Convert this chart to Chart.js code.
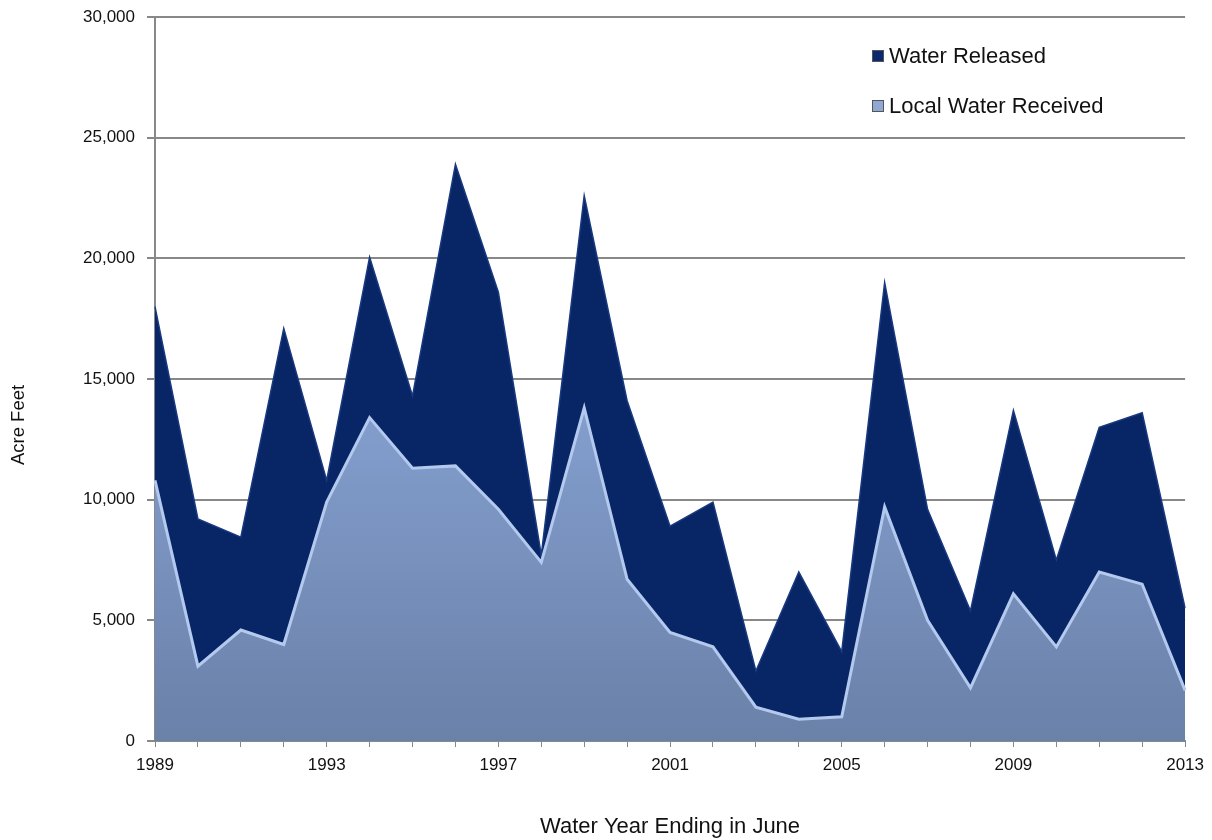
<!DOCTYPE html>
<html lang="en">
<head>
    <meta charset="UTF-8">
    <title>Water Released vs Local Water Received</title>
    <script src="https://cdn.jsdelivr.net/npm/chart.js@4.4.0/dist/chart.umd.min.js"></script>
    <style>
        body {
            margin: 0;
            background: #fff;
            font-family: "Liberation Sans", Arial, sans-serif;
        }
        .wrap {
            position: relative;
            width: 1212px;
            height: 840px;
        }
        .legend {
            position: absolute;
            left: 872px;
            top: 31px;
            font-size: 22px;
            color: #111;
        }
        .legend div {
            height: 50px;
            display: flex;
            align-items: center;
        }
        .legend span {
            display: inline-block;
            width: 10px;
            height: 10px;
            margin-right: 5px;
            border: 1px solid #555;
        }
    </style>
</head>
<body>
    <div class="wrap">
        <canvas id="waterChart"></canvas>
        <div class="legend">
            <div><span style="background:#0b2a6e"></span>Water Released</div>
            <div><span style="background:#8fa8d4"></span>Local Water Received</div>
        </div>
    </div>
    <script>
        var years = [];
        for (var y = 1989; y <= 2013; y++) years.push(String(y));

        var waterReleased = [18000, 9200, 8450, 17100, 10800, 20050, 14300, 23900, 18600, 7700,
            22600, 14100, 8900, 9900, 2900, 7000, 3700, 19000, 9600, 5400,
            13700, 7500, 13000, 13600, 5500];
        var localReceived = [10800, 3100, 4600, 4000, 9900, 13400, 11300, 11400, 9600, 7400,
            13800, 6700, 4500, 3900, 1400, 900, 1000, 9700, 5000, 2200,
            6100, 3900, 7000, 6500, 2100];

        var yMax = 30000;
        var yStep = 5000;

        function localGradient(context) {
            var area = context.chart.chartArea;
            if (!area) return '#8aa4d2';
            var g = context.chart.ctx.createLinearGradient(0, area.top, 0, area.bottom);
            g.addColorStop(0, '#a3c0f0');
            g.addColorStop(0.4, '#8ba7da');
            g.addColorStop(1, '#6a81a8');
            return g;
        }

        // y title sits lower than the plot centre in the original, so draw it by hand
        var yTitle = {
            id: 'yTitle',
            afterDraw: function (chart) {
                var c = chart.ctx;
                c.save();
                c.translate(19, 425);
                c.rotate(-Math.PI / 2);
                c.font = '18.5px "Liberation Sans"';
                c.fillStyle = '#111';
                c.textAlign = 'center';
                c.textBaseline = 'middle';
                c.fillText('Acre Feet', 0, 0);
                c.restore();
            }
        };

        var ctx = document.getElementById('waterChart').getContext('2d');
        var chart = new Chart(ctx, {
            type: 'line',
            data: {
                labels: years,
                datasets: [
                    {
                        label: 'Local Water Received',
                        data: localReceived,
                        fill: 'origin',
                        backgroundColor: localGradient,
                        borderColor: '#b4c9ee',
                        borderWidth: 3,
                        pointRadius: 0,
                        tension: 0
                    },
                    {
                        label: 'Water Released',
                        data: waterReleased,
                        fill: 'origin',
                        backgroundColor: '#082566',
                        borderColor: '#1a3a80',
                        borderWidth: 1.5,
                        pointRadius: 0,
                        tension: 0
                    }
                ]
            },
            plugins: [yTitle],
            options: {
                responsive: true,
                maintainAspectRatio: false,
                animation: false,
                layout: { padding: { top: 17, right: 26, left: 0, bottom: 0 } },
                plugins: {
                    legend: { display: false },
                    tooltip: { enabled: false }
                },
                scales: {
                    x: {
                        offset: false,
                        grid: { drawOnChartArea: false, drawTicks: true, tickLength: 6, color: '#888' },
                        border: { color: '#888', width: 2 },
                        ticks: {
                            autoSkip: false,
                            maxRotation: 0,
                            padding: 8,
                            color: '#111',
                            font: { family: 'Liberation Sans', size: 17 },
                            callback: function (v, i) { return i % 4 === 0 ? years[i] : ''; }
                        },
                        title: {
                            display: true,
                            text: 'Water Year Ending in June',
                            color: '#111',
                            font: { family: 'Liberation Sans', size: 22 },
                            padding: { top: 0, bottom: 0 }
                        },
                        afterFit: function (s) { s.height = 99; }
                    },
                    y: {
                        min: 0,
                        max: yMax,
                        grid: { color: '#888', lineWidth: 2, tickLength: 8 },
                        border: { color: '#888', width: 2 },
                        ticks: {
                            stepSize: yStep,
                            padding: 12,
                            color: '#111',
                            font: { family: 'Liberation Sans', size: 17 },
                            callback: function (v) { return v.toLocaleString('en-US'); }
                        },
                        title: { display: false },
                        afterFit: function (s) {
                            s.width = 155;
                            s.paddingTop = 0;
                            s.paddingBottom = 0;
                        }
                    }
                }
            }
        });
    </script>
</body>
</html>
